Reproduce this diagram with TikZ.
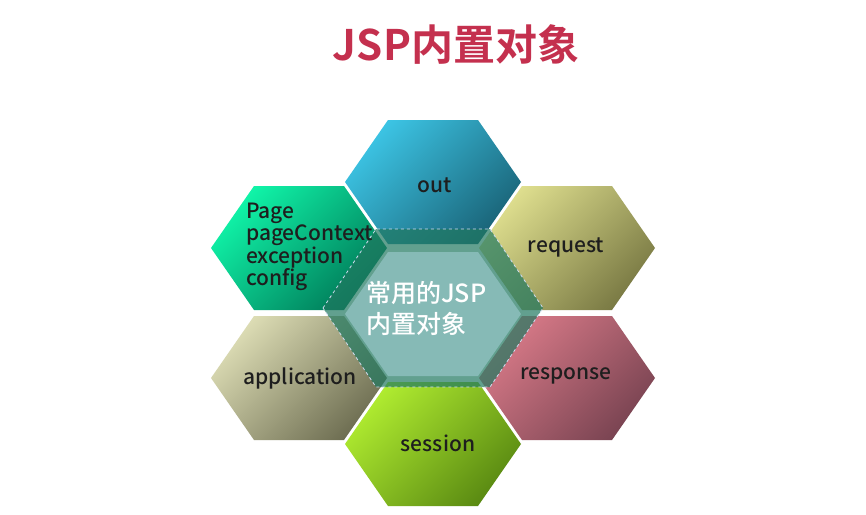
\documentclass[tikz,border=0pt]{standalone}
\usepackage{fontspec}
\setmainfont{Noto Sans CJK SC Medium}
\newfontfamily\cjkbold{Noto Sans CJK SC Bold}
\definecolor{titlered}{HTML}{C4304E}
\definecolor{outA}{HTML}{3CC4E4}\definecolor{outB}{HTML}{1A6478}
\definecolor{reqA}{HTML}{DEDE8E}\definecolor{reqB}{HTML}{7A7A44}
\definecolor{resA}{HTML}{D87A88}\definecolor{resB}{HTML}{7A4452}
\definecolor{sesA}{HTML}{B0EC30}\definecolor{sesB}{HTML}{5A8A12}
\definecolor{appA}{HTML}{DCDCB4}\definecolor{appB}{HTML}{6E6E52}
\definecolor{pagA}{HTML}{10F4A8}\definecolor{pagB}{HTML}{007A58}
\definecolor{centerfill}{HTML}{86BAB6}
\definecolor{ovcol}{HTML}{207860}
\definecolor{dashcol}{HTML}{D0DCF0}
\definecolor{labeltext}{HTML}{1E1E1E}
\newcommand{\hexat}[2]{(#1-88,#2) -- (#1-45,#2-62) -- (#1+45,#2-62) -- (#1+88,#2) -- (#1+45,#2+62) -- (#1-45,#2+62) -- cycle}
\newcommand{\bighexat}[2]{(#1-110,#2) -- (#1-57,#2-79) -- (#1+57,#2-79) -- (#1+110,#2) -- (#1+57,#2+79) -- (#1-57,#2+79) -- cycle}
\tikzset{
  hexshade/.style 2 args={top color=#1, bottom color=#2, shading angle=45},
  lbl/.style={text=labeltext, font=\fontsize{21}{22.5}\selectfont, inner sep=0pt},
}
\begin{document}
\begin{tikzpicture}[x=1pt,y=-1pt]
\useasboundingbox (0,0) rectangle (866,514);
\fill[white] (0,0) rectangle (866,514);
% title
\node[text=titlered, font=\cjkbold\fontsize{42}{46}\selectfont, inner sep=0pt] (title) at (456,44) {JSP内置对象};
% outer hexagons
\shade[hexshade={outA}{outB}] \hexat{433}{182};
\shade[hexshade={reqA}{reqB}] \hexat{567}{248};
\shade[hexshade={resA}{resB}] \hexat{567}{378};
\shade[hexshade={sesA}{sesB}] \hexat{433}{444};
\shade[hexshade={appA}{appB}] \hexat{299}{378};
\shade[hexshade={pagA}{pagB}] \hexat{299}{248};
% translucent overlay with dashed border
\fill[ovcol, fill opacity=0.7] \bighexat{433}{308};
\draw[dashcol, dashed, line width=0.8pt] \bighexat{433}{308};
% center hexagon
\fill[centerfill] \hexat{433}{314};
% labels
\node[lbl] (out) at (435,185) {out};
\node[lbl] (request) at (566,247) {request};
\node[lbl] (response) at (566,376) {response};
\node[lbl] (session) at (438,443) {session};
\node[lbl] (application) at (300,378) {application};
\node[lbl, align=left, anchor=west] (page) at (246,247) {Page\\pageContext\\exception\\config};
\node[text=white, font=\fontsize{25}{31}\selectfont, align=left, anchor=west, inner sep=0pt] (center) at (366,308) {常用的JSP\\内置对象};
\end{tikzpicture}
\end{document}
